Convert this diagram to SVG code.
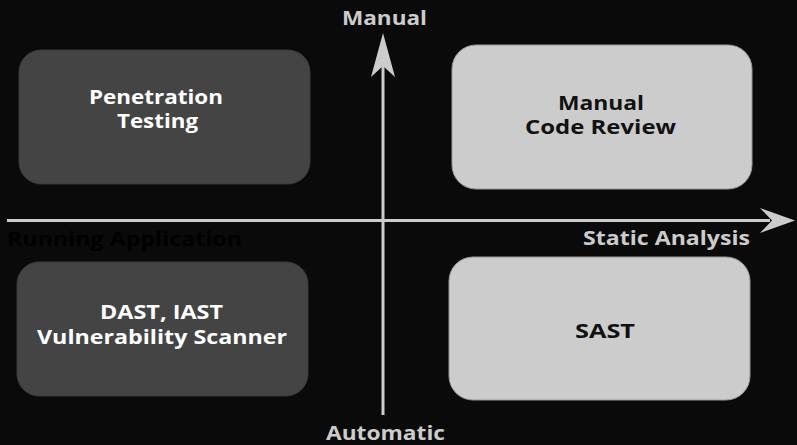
<svg xmlns="http://www.w3.org/2000/svg" width="797" height="445" viewBox="0 0 797 445">
<defs>
<style>
.dark{fill:#444444;stroke:#3a3a3a;stroke-width:1}
.light{fill:#cccccc;stroke:#999999;stroke-width:1}
.t{font-family:"Open Sans","Lato",sans-serif;font-weight:700;font-size:20px;text-anchor:middle}
.tw{fill:#ffffff}
.tb{fill:#111111}
.ax{font-family:"Open Sans","Lato",sans-serif;font-weight:700;font-size:20px;fill:#cccccc}
.axis{stroke:#cccccc;stroke-width:3;fill:none}
.head{fill:#cccccc}
</style>
</defs>
<rect width="797" height="445" fill="#0a0a0a"/>
<g id="connectors">
<line class="axis" x1="7" y1="220.5" x2="770" y2="220.5"/>
<path class="head" d="M795,220.5 L760,208 L772,220.5 L760,233 Z"/>
<line class="axis" x1="383" y1="415" x2="383" y2="60"/>
<path class="head" d="M383,33 L371,77 L383,66 L395,77 Z"/>
</g>
<g id="axis-labels">
<text class="ax" x="342" y="25" textLength="85" lengthAdjust="spacingAndGlyphs">Manual</text>
<text class="ax" x="326" y="440" textLength="119" lengthAdjust="spacingAndGlyphs">Automatic</text>
<text class="ax" x="583" y="245" textLength="167" lengthAdjust="spacingAndGlyphs">Static Analysis</text>
<text class="ax" x="7" y="246" style="fill:#000000" textLength="235" lengthAdjust="spacingAndGlyphs">Running Application</text>
</g>
<g id="penetration-testing">
<rect class="dark" x="19" y="50" width="291" height="134" rx="22"/>
<text class="t tw" x="156" y="104" textLength="134" lengthAdjust="spacingAndGlyphs">Penetration</text>
<text class="t tw" x="157.5" y="128" textLength="81" lengthAdjust="spacingAndGlyphs">Testing</text>
</g>
<g id="manual-code-review">
<rect class="light" x="452" y="45" width="300" height="144" rx="24"/>
<text class="t tb" x="601" y="110" textLength="86" lengthAdjust="spacingAndGlyphs">Manual</text>
<text class="t tb" x="600.5" y="134" textLength="151" lengthAdjust="spacingAndGlyphs">Code Review</text>
</g>
<g id="dast-iast">
<rect class="dark" x="17" y="262" width="291" height="134" rx="22"/>
<text class="t tw" x="161.5" y="319" textLength="123" lengthAdjust="spacingAndGlyphs">DAST, IAST</text>
<text class="t tw" x="162" y="344" textLength="250" lengthAdjust="spacingAndGlyphs">Vulnerability Scanner</text>
</g>
<g id="sast">
<rect class="light" x="449" y="257" width="301" height="143" rx="24"/>
<text class="t tb" x="605" y="338" textLength="60" lengthAdjust="spacingAndGlyphs">SAST</text>
</g>
</svg>
